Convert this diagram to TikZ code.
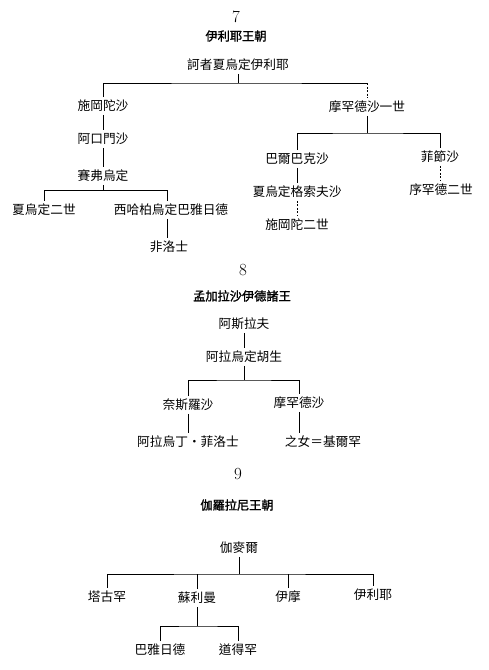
\documentclass[tikz,border=0pt]{standalone}
\usepackage{fontspec}
\newfontfamily\cjk{Noto Sans CJK TC}
\newfontfamily\cjkb[FakeBold=1.6]{Noto Sans CJK TC}
\begin{document}
\begin{tikzpicture}[x=1pt,y=-1pt,
  nm/.style={font=\cjk\fontsize{12.7}{13}\selectfont, inner xsep=1pt, inner ysep=2.5pt, text height=10.6pt, text depth=1.7pt},
  ttl/.style={font=\cjkb\fontsize{12.2}{13}\selectfont, inner sep=1pt},
  num/.style={font=\fontsize{17}{17}\selectfont, inner sep=1pt},
  ln/.style={draw=black, line width=1pt},
  dsh/.style={draw=black, line width=1pt, dash pattern=on 2pt off 1.5pt}]
\useasboundingbox[fill=white] (0,0) rectangle (488,670);

% ---------- 7 ----------
\node[num] (t7) at (236,17) {7};
\node[ttl] (h7) at (236,36) {伊利耶王朝};
\node[nm] (a) at (238,65) {訶者夏烏定伊利耶};
\node[nm] (b1) at (103,106) {施岡陀沙};
\node[nm] (b2) at (103,139) {阿口門沙};
\node[nm] (b3) at (103,176) {賽弗烏定};
\node[nm] (c1) at (44,210) {夏烏定二世};
\node[nm] (c2) at (171,210) {西哈柏烏定巴雅日德};
\node[nm] (c3) at (169,247) {非洛士};
\node[nm] (r1) at (367,107) {摩罕德沙一世};
\node[nm] (r2) at (297,159) {巴爾巴克沙};
\node[nm] (r3) at (440,157) {菲節沙};
\node[nm] (r4) at (297,192) {夏烏定格索夫沙};
\node[nm] (r5) at (297,225) {施岡陀二世};
\node[nm] (r6) at (441,190) {序罕德二世};

\coordinate (j7) at (238,83);
\coordinate (j7b) at (103,190);
\coordinate (k7) at (167,190);
\coordinate (j7r) at (367,133);

\draw[ln] (a) -- (j7);
\draw[ln] (b1.north) |- (j7) -- (j7 -| r1.north);
\draw[dsh] (j7 -| r1.north) -- (r1.north);
\draw[ln] (b1) -- (b2);
\draw[ln] (b2) -- (b3);
\draw[ln] (b3) -- (j7b);
\draw[ln] (c1.north) |- (k7) -- (k7 |- c2.north);
\draw[ln] (k7 |- c2.south) -- (k7 |- c3.north);
\draw[ln] (r1) -- (j7r);
\draw[ln] (r2.north) |- (j7r) -| (r3.north);
\draw[ln] (r2) -- (r4);
\draw[dsh] (r4) -- (r5);
\draw[dsh] (r3.south) -- (r3.south |- r6.north);

% ---------- 8 ----------
\node[num] (t8) at (243,270) {8};
\node[ttl] (h8) at (242,296) {孟加拉沙伊德諸王};
\node[nm] (d1) at (244,324) {阿斯拉夫};
\node[nm] (d2) at (244,357) {阿拉烏定胡生};
\node[nm] (d3) at (188,405) {奈斯羅沙};
\node[nm] (d4) at (299,403) {摩罕德沙};
\node[nm] (d5) at (188,442) {阿拉烏丁・菲洛士};
\node[nm] (d6) at (323,442) {之女＝基爾罕};

\coordinate (j8) at (244,380);
\draw[ln] (d1) -- (d2);
\draw[ln] (d2) -- (j8);
\draw[ln] (d3.north) |- (j8) -| (d4.north);
\draw[ln] (d3) -- (d5);
\draw[ln] (d4.south) -- (d4.south |- d6.north);

% ---------- 9 ----------
\node[num] (t9) at (238,474) {9};
\node[ttl] (h9) at (237,505) {伽羅拉尼王朝};
\node[nm] (e1) at (239,548) {伽麥爾};
\node[nm] (e2) at (107,597) {塔古罕};
\node[nm] (e3) at (197,598) {蘇利曼};
\node[nm] (e4) at (288,597) {伊摩};
\node[nm] (e5) at (373,595) {伊利耶};
\node[nm] (e6) at (160,650) {巴雅日德};
\node[nm] (e7) at (238,650) {道得罕};

\coordinate (j9) at (239,574);
\coordinate (j9b) at (197,626);
\draw[ln] (e1) -- (j9);
\draw[ln] (e2.north) |- (j9) -| (e5.north);
\draw[ln] (e3.north) -- (e3.north |- j9);
\draw[ln] (e4.north) -- (e4.north |- j9);
\draw[ln] (e3) -- (j9b);
\draw[ln] (e6.north) |- (j9b) -| (e7.north);
\end{tikzpicture}
\end{document}
